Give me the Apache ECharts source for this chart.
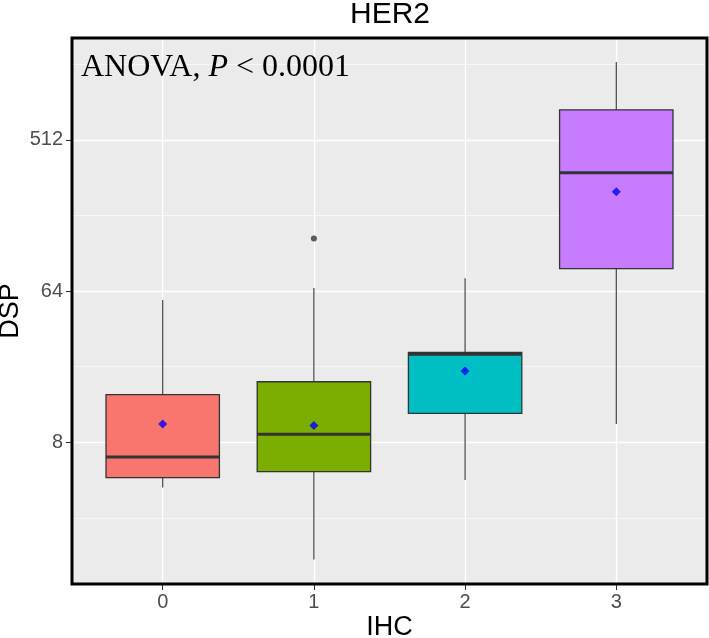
<!DOCTYPE html>
<html>
<head>
<meta charset="utf-8">
<script src="https://cdn.jsdelivr.net/npm/echarts@6/dist/echarts.min.js"></script>
<style>
html, body { margin: 0; padding: 0; background: #fff; }
#boxplot { width: 709px; height: 638px; }
</style>
</head>
<body>
<div id="boxplot"></div>
<script>
// IHC groups and DSP summary values
var groups = ['0', '1', '2', '3'];
var fills = ['#F8766D', '#7CAE00', '#00BFC4', '#C77CFF'];
var whiskerLow = [4.3, 1.6, 4.76, 10.3];
var q1 = [4.92, 5.35, 11.9, 87.2];
var median = [6.54, 8.94, 26.9, 326];
var q3 = [15.4, 18.4, 27.5, 773];
var whiskerHigh = [56.7, 66.7, 76.4, 1491];
var means = [10.3, 10.1, 21.3, 251];
var outliers = [[1, 132]];

// log2 axis ticks
var yTicks = [8, 64, 512];
var yMinor = [2.828, 22.63, 181.0, 1448.2];
var yRange = [1.141, 2076];
var xTicks = [0, 1, 2, 3];

var lg = Math.log2;
var yMin = lg(yRange[0]);
var yMax = lg(yRange[1]);

var boxData = groups.map(function (g, i) {
  return [i, lg(whiskerLow[i]), lg(q1[i]), lg(median[i]), lg(q3[i]), lg(whiskerHigh[i])];
});
var meanData = groups.map(function (g, i) { return [i, lg(means[i])]; });
var outlierData = outliers.map(function (o) { return [o[0], lg(o[1])]; });

function renderBox(params, api) {
  var x = api.value(0);
  var lo = api.coord([x, api.value(1)]);
  var b1 = api.coord([x, api.value(2)]);
  var md = api.coord([x, api.value(3)]);
  var b3 = api.coord([x, api.value(4)]);
  var hi = api.coord([x, api.value(5)]);
  var w = api.size([1, 0])[0] * 0.75;
  var line = { stroke: '#333333', lineWidth: 1.1 };
  return {
    type: 'group',
    children: [
      { type: 'line', shape: { x1: lo[0], y1: lo[1], x2: b1[0], y2: b1[1] }, style: line },
      { type: 'line', shape: { x1: b3[0], y1: b3[1], x2: hi[0], y2: hi[1] }, style: line },
      { type: 'rect', shape: { x: b3[0] - w / 2, y: b3[1], width: w, height: b1[1] - b3[1] },
        style: { fill: fills[params.dataIndex], stroke: '#333333', lineWidth: 1.3 } },
      { type: 'line', shape: { x1: md[0] - w / 2, y1: md[1], x2: md[0] + w / 2, y2: md[1] },
        style: { stroke: '#333333', lineWidth: 3 } }
    ]
  };
}

var sans = "'Liberation Sans', Arial, sans-serif";
var serif = "'Liberation Serif', 'Times New Roman', serif";

const chart = echarts.init(document.getElementById('boxplot'));
chart.setOption({
  animation: false,
  title: [{
    text: 'HER2',
    left: 350,
    top: 0,
    padding: 0,
    textStyle: { fontFamily: sans, fontSize: 30, fontWeight: 'normal', color: '#000' }
  }, {
    text: '{a|ANOVA, }{b|P}{a| < 0.0001}',
    left: 81,
    top: 52,
    padding: 0,
    textStyle: {
      fontWeight: 'normal',
      rich: {
        a: { fontFamily: serif, fontSize: 32, fontWeight: 'normal', color: '#000' },
        b: { fontFamily: serif, fontStyle: 'italic', fontSize: 32, fontWeight: 'normal', color: '#000' }
      }
    }
  }],
  grid: [
    { left: 72, right: 2, top: 38, bottom: 54, show: true, backgroundColor: '#EBEBEB', borderWidth: 0,
      outerBoundsMode: 'none' },
    { left: 72, right: 2, top: 38, bottom: 54, show: true, backgroundColor: 'transparent',
      borderColor: '#000', borderWidth: 3, z: 10, outerBoundsMode: 'none' }
  ],
  xAxis: [{
    type: 'value',
    gridIndex: 0,
    min: -0.6,
    max: 3.6,
    axisLine: { show: false, onZero: false },
    axisTick: { customValues: xTicks, length: 6, lineStyle: { color: '#333' } },
    axisLabel: {
      customValues: xTicks,
      formatter: function (v) { return groups[v]; },
      fontFamily: sans, fontSize: 20, color: '#4D4D4D', margin: 8
    },
    splitLine: { lineStyle: { color: '#fff', width: 1.3 } },
    name: 'IHC',
    nameLocation: 'middle',
    nameGap: 30,
    nameMoveOverlap: false,
    nameTextStyle: { fontFamily: sans, fontSize: 27, color: '#000' }
  }, {
    type: 'value', gridIndex: 1, min: 0, max: 1, show: false
  }],
  yAxis: [{
    type: 'value',
    gridIndex: 0,
    min: yMin,
    max: yMax,
    axisLine: { show: false, onZero: false },
    axisTick: { customValues: yTicks.map(lg), length: 6, lineStyle: { color: '#333' } },
    axisLabel: {
      customValues: yTicks.map(lg),
      formatter: function (v) { return String(Math.round(Math.pow(2, v))); },
      fontFamily: sans, fontSize: 20, color: '#4D4D4D', margin: 9
    },
    splitLine: { lineStyle: { color: '#fff', width: 1.3 } },
    name: 'DSP',
    nameLocation: 'middle',
    nameRotate: 90,
    nameGap: 48,
    nameMoveOverlap: false,
    nameTextStyle: { fontFamily: sans, fontSize: 27, color: '#000' }
  }, {
    type: 'value',
    gridIndex: 0,
    min: yMin,
    max: yMax,
    position: 'left',
    axisLine: { show: false, onZero: false },
    axisTick: { show: false, customValues: yMinor.map(lg) },
    axisLabel: { show: false },
    splitLine: { lineStyle: { color: '#fff', width: 0.6 } }
  }, {
    type: 'value', gridIndex: 1, min: 0, max: 1, show: false
  }],
  series: [{
    type: 'custom',
    xAxisIndex: 0,
    yAxisIndex: 0,
    renderItem: renderBox,
    encode: { x: 0, y: [1, 2, 3, 4, 5] },
    data: boxData,
    z: 3
  }, {
    type: 'scatter',
    xAxisIndex: 0,
    yAxisIndex: 0,
    symbol: 'diamond',
    symbolSize: 9,
    itemStyle: { color: '#0000FF' },
    data: meanData,
    z: 4
  }, {
    type: 'scatter',
    xAxisIndex: 0,
    yAxisIndex: 0,
    symbol: 'circle',
    symbolSize: 6,
    itemStyle: { color: '#333333' },
    data: outlierData,
    z: 4
  }]
});
</script>
</body>
</html>
